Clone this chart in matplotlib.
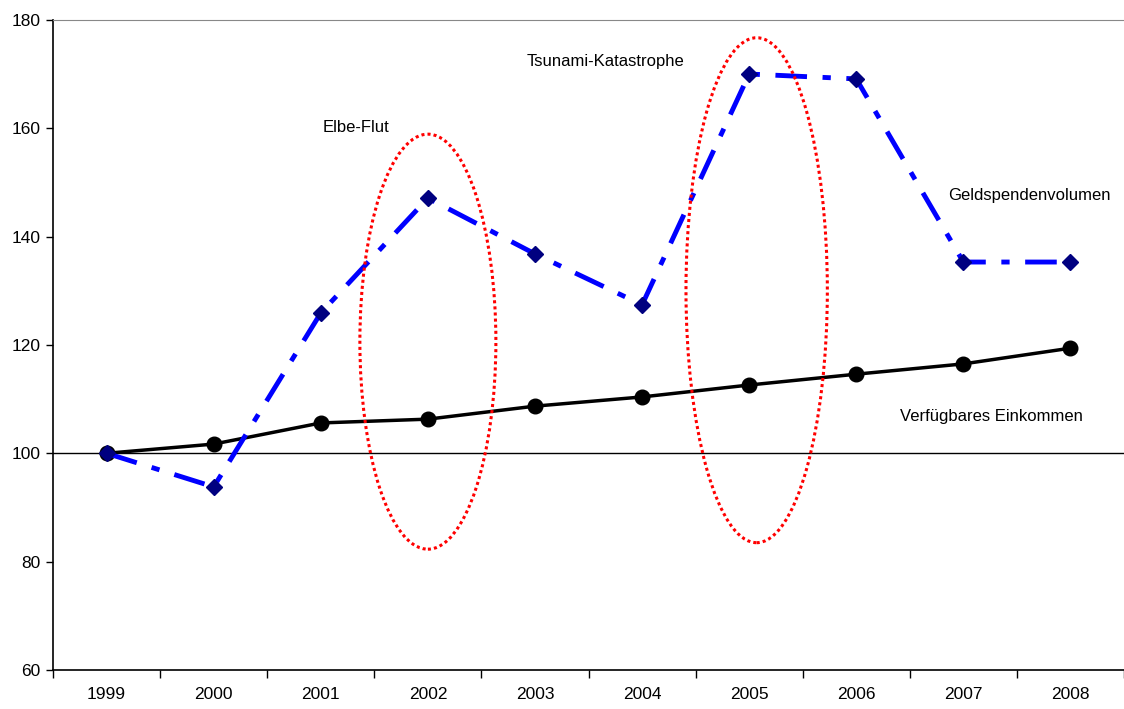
import matplotlib
matplotlib.use("Agg")
import matplotlib.pyplot as plt
from matplotlib.patches import Ellipse
from matplotlib.ticker import FixedLocator
from matplotlib import font_manager

names = {f.name for f in font_manager.fontManager.ttflist}
main_font = 'Liberation Sans Narrow' if 'Liberation Sans Narrow' in names else 'Liberation Sans'
plt.rcParams['font.family'] = [main_font, 'DejaVu Sans']
narrow = main_font == 'Liberation Sans Narrow'
fs_note = 14 if narrow else 12
fs_tick = 14.5 if narrow else 12.5

years = ["1999", "2000", "2001", "2002", "2003", "2004", "2005", "2006", "2007", "2008"]
geldspenden = [100, 93.8, 125.9, 147.1, 136.8, 127.4, 170.0, 169.1, 135.3, 135.3]
einkommen = [100, 101.7, 105.6, 106.3, 108.7, 110.4, 112.6, 114.6, 116.5, 119.4]

# highlighted events: (center index, center value, width in categories, height in value units)
events = [(3.0, 120.6, 1.27, 76.6), (6.07, 130.1, 1.32, 93.2)]
notes = [("Elbe-Flut", 2.33, 160.2), ("Tsunami-Katastrophe", 4.66, 172.4),
         ("Geldspendenvolumen", 8.62, 147.5), ("Verfügbares Einkommen", 8.26, 106.7)]

fig = plt.figure(figsize=(11.24, 7.09), dpi=100)
ax = fig.add_axes([0.0472, 0.055, 0.9528, 0.917])

x = list(range(len(years)))
ax.axhline(100, color='black', lw=1.0, zorder=1)
ax.plot(x, einkommen, color='black', lw=2.5, marker='o', markersize=10.5,
        markerfacecolor='black', markeredgecolor='black', zorder=3)
ax.plot(x, geldspenden, color='#0000ff', lw=3.5, linestyle=(0, (6.5, 3.2, 1.7, 3.2)),
        marker='D', markersize=8.5, markerfacecolor='#000080', markeredgecolor='#000080', zorder=4)

for cx, cy, w, h in events:
    ax.add_patch(Ellipse((cx, cy), w, h, fill=False, edgecolor='#ff0000', lw=2.2,
                         linestyle=(0, (1, 1)), zorder=5))

for txt, tx, ty in notes:
    ax.text(tx, ty, txt, fontsize=fs_note, ha='center', va='center', color='black')

ax.set_xlim(-0.5, 9.5)
ax.set_ylim(60, 180)
ax.set_yticks([60, 80, 100, 120, 140, 160, 180])
ax.tick_params(axis='y', length=5, width=1, direction='out', labelsize=fs_tick, pad=4)
ax.set_xticks(x)
ax.set_xticklabels(years)
ax.xaxis.set_minor_locator(FixedLocator([i - 0.5 for i in range(len(years) + 1)]))
ax.tick_params(axis='x', which='major', length=0, labelsize=fs_tick, pad=12)
ax.tick_params(axis='x', which='minor', length=6, width=1, direction='out')

ax.spines['right'].set_visible(False)
ax.spines['top'].set_color('#888888')
ax.spines['left'].set_linewidth(1.2)
ax.spines['bottom'].set_linewidth(1.2)

fig.savefig("out.png", dpi=100)
